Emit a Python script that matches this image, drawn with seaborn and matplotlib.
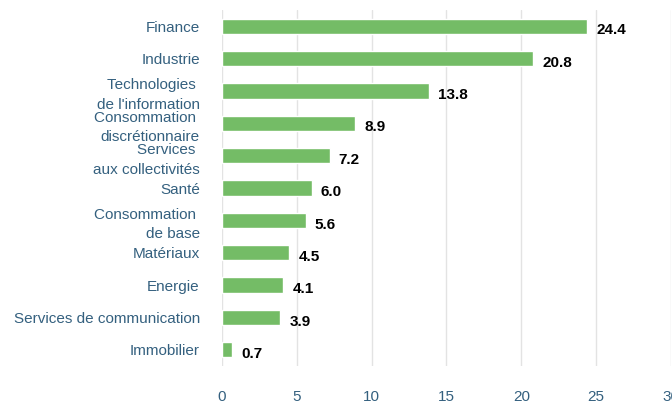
import matplotlib
matplotlib.use("Agg")
import matplotlib.pyplot as plt
import pandas as pd
import seaborn as sns

sectors = [
    "Finance",
    "Industrie",
    "Technologies \nde l'information",
    "Consommation \ndiscrétionnaire",
    "Services \naux collectivités",
    "Santé",
    "Consommation \nde base",
    "Matériaux",
    "Energie",
    "Services de communication",
    "Immobilier",
]
weights = [24.4, 20.8, 13.8, 8.9, 7.2, 6.0, 5.6, 4.5, 4.1, 3.9, 0.7]
x_ticks = [0, 5, 10, 15, 20, 25, 30]

df = pd.DataFrame({"sector": sectors, "weight": weights})

sns.set_style("white")
plt.rcParams["font.family"] = ["Liberation Sans", "DejaVu Sans"]

label_color = "#34607f"
bar_color = "#74bc66"

fig = plt.figure(figsize=(6.72, 4.03), dpi=100)
ax = fig.add_axes([222 / 672, 1 - 366 / 403, (671 - 222) / 672, (366 - 10) / 403])

sns.barplot(df, x="weight", y="sector", orient="h", color=bar_color,
            width=0.47, saturation=1, ax=ax, zorder=3)

for i, v in enumerate(weights):
    ax.annotate(f"{v:.1f}", xy=(v, i), xytext=(6.5, -3), textcoords="offset points",
                ha="left", va="center", fontsize=11, fontweight="bold", color="black")

ax.set_xlim(0, 30)
ax.set_xticks(x_ticks)
ax.set_ylim(10.5, -0.5)
ax.grid(axis="x", color="#e3e3e3", linewidth=1, zorder=0)
ax.grid(axis="y", visible=False)
for s in ax.spines.values():
    s.set_visible(False)
ax.tick_params(axis="x", length=0, pad=17, labelsize=11, labelcolor=label_color)
ax.tick_params(axis="y", length=0, pad=16, labelsize=11, labelcolor=label_color)
for t in ax.get_yticklabels():
    t.set_linespacing(1.5)
ax.set_xlabel("")
ax.set_ylabel("")

fig.savefig("out.png", dpi=100)
